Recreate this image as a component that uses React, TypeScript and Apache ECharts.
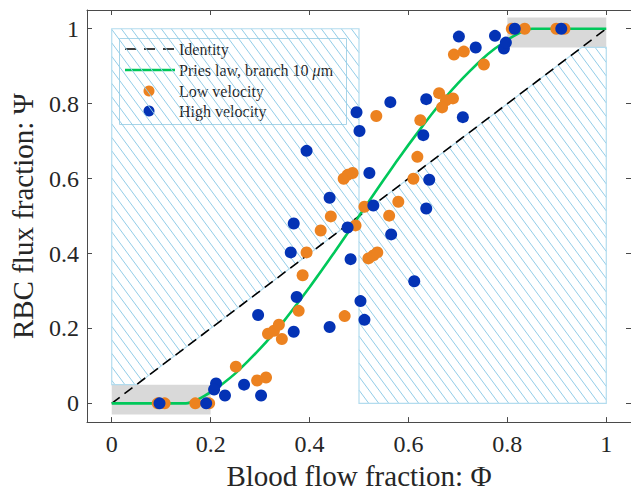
import React, { useEffect, useRef } from "react";
import * as echarts from "echarts";

const xTicks = [0, 0.2, 0.4, 0.6, 0.8, 1];
const yTicks = [0, 0.2, 0.4, 0.6, 0.8, 1];

const identityX = [0, 1];
const identityY = [0, 1];

const priesX = [0, 0.05, 0.1, 0.15, 0.16, 0.175, 0.1875, 0.2, 0.225, 0.25, 0.275, 0.3, 0.325, 0.35, 0.375, 0.4, 0.425, 0.45, 0.475, 0.5, 0.525, 0.55, 0.575, 0.6, 0.625, 0.65, 0.675, 0.7, 0.725, 0.75, 0.775, 0.8, 0.8125, 0.825, 0.84, 0.85, 0.9, 0.95, 1];
const priesY = [0, 0, 0, 0, 0.003, 0.011, 0.02, 0.03, 0.053, 0.08, 0.112, 0.146, 0.183, 0.223, 0.266, 0.31, 0.356, 0.403, 0.451, 0.5, 0.549, 0.597, 0.644, 0.69, 0.734, 0.777, 0.817, 0.854, 0.888, 0.92, 0.947, 0.97, 0.98, 0.989, 0.997, 1, 1, 1, 1];

const lowX = [0.093, 0.107, 0.169, 0.197, 0.251, 0.294, 0.312, 0.316, 0.328, 0.338, 0.344, 0.378, 0.386, 0.394, 0.4225, 0.443, 0.469, 0.477, 0.487, 0.471, 0.493, 0.511, 0.519, 0.529, 0.537, 0.535, 0.561, 0.5795, 0.61, 0.618, 0.624, 0.662, 0.676, 0.69, 0.668, 0.692, 0.712, 0.7525, 0.809, 0.835, 0.899, 0.9155];
const lowY = [0, 0, 0, 0, 0.098, 0.061, 0.069, 0.186, 0.194, 0.21, 0.172, 0.247, 0.342, 0.403, 0.4615, 0.499, 0.5995, 0.61, 0.615, 0.233, 0.475, 0.525, 0.387, 0.395, 0.403, 0.767, 0.501, 0.538, 0.5995, 0.658, 0.756, 0.828, 0.809, 0.814, 0.79, 0.931, 0.939, 0.9045, 1, 1, 1, 1];

const highX = [0.0966, 0.191, 0.211, 0.207, 0.229, 0.2676, 0.302, 0.296, 0.368, 0.374, 0.362, 0.368, 0.394, 0.4406, 0.4406, 0.477, 0.483, 0.495, 0.501, 0.503, 0.511, 0.521, 0.529, 0.5634, 0.565, 0.6117, 0.63, 0.636, 0.636, 0.642, 0.71, 0.702, 0.736, 0.775, 0.793, 0.797, 0.815, 0.909];
const highY = [0, 0, 0.053, 0.037, 0.021, 0.05, 0.021, 0.236, 0.191, 0.284, 0.403, 0.48, 0.674, 0.549, 0.204, 0.4695, 0.385, 0.777, 0.727, 0.273, 0.223, 0.615, 0.528, 0.804, 0.451, 0.326, 0.716, 0.812, 0.52, 0.597, 0.764, 0.979, 0.95, 0.981, 0.947, 0.963, 1, 1];

const hatchRegions = [
  [[0, 0.05], [0, 1], [0.5, 1], [0.5, 0.5], [0.05, 0.05]],
  [[0.5, 0], [0.5, 0.5], [0.95, 0.95], [1, 0.95], [1, 0]],
];
const grayBoxes = [
  [0, -0.03, 0.2, 0.05],
  [0.8, 0.95, 1, 1.03],
];

const FONT = "Liberation Serif";
const ORANGE = "#EC8220";
const BLUE = "#0433B5";
const GREEN = "#00C85A";
const HATCH = "#93cde8";
const AXIS = "#4a4a4a";

function hatchLines(pts: number[][], spacing: number, k: number) {
  let area = 0;
  for (let i = 0; i < pts.length; i++) {
    const j = (i + 1) % pts.length;
    area += pts[i][0] * pts[j][1] - pts[j][0] * pts[i][1];
  }
  const s = area > 0 ? 1 : -1;
  const cs = pts.map((p) => p[0] - p[1] / k);
  const cmin = Math.floor(Math.min(...cs) / spacing) * spacing;
  const cmax = Math.max(...cs);
  const out: number[][][] = [];
  for (let c = cmin; c <= cmax; c += spacing) {
    const p0 = [c, 0];
    const d = [1, k];
    let t0 = -Infinity;
    let t1 = Infinity;
    for (let i = 0; i < pts.length; i++) {
      const a = pts[i];
      const b = pts[(i + 1) % pts.length];
      const ex = b[0] - a[0];
      const ey = b[1] - a[1];
      const num = s * (ex * (p0[1] - a[1]) - ey * (p0[0] - a[0]));
      const den = s * (ex * d[1] - ey * d[0]);
      if (Math.abs(den) < 1e-9) {
        if (num < 0) {
          t0 = 1;
          t1 = 0;
        }
        continue;
      }
      const t = -num / den;
      if (den > 0) t0 = Math.max(t0, t);
      else t1 = Math.min(t1, t);
    }
    if (t1 > t0) out.push([[c + t0, k * t0], [c + t1, k * t1]]);
  }
  return out;
}

export default function App() {
  const ref = useRef<HTMLDivElement>(null);
  useEffect(() => {
    if (!ref.current) return;
    const chart = echarts.init(ref.current, undefined, { renderer: "svg" });
    const axisCommon = {
      type: "value" as const,
      min: -0.05,
      max: 1.05,
      splitLine: { show: false },
      axisLine: { show: true, onZero: false, lineStyle: { color: AXIS, width: 1 } },
    };
    const option: any = {
      animation: false,
      backgroundColor: "#ffffff",
      grid: { left: 86, top: 10, width: 546, height: 415, containLabel: false },
      xAxis: [
        {
          ...axisCommon,
          position: "bottom",
          name: "Blood flow fraction: \u03A6",
          nameLocation: "middle",
          nameGap: 36,
          nameTextStyle: { fontFamily: FONT, fontSize: 29, color: "#262626" },
          axisTick: { show: true, inside: true, length: 5, customValues: xTicks, lineStyle: { color: AXIS } },
          axisLabel: { show: true, customValues: xTicks, margin: 10, fontFamily: FONT, fontSize: 24, color: "#262626", formatter: (v: number) => String(Math.round(v * 10) / 10) },
        },
        {
          ...axisCommon,
          position: "top",
          axisTick: { show: true, inside: true, length: 5, customValues: xTicks, lineStyle: { color: AXIS } },
          axisLabel: { show: false },
        },
      ],
      yAxis: [
        {
          ...axisCommon,
          position: "left",
          name: "RBC flux fraction: \u03A8",
          nameLocation: "middle",
          nameGap: 50,
          nameTextStyle: { fontFamily: FONT, fontSize: 29, color: "#262626" },
          axisTick: { show: true, inside: true, length: 5, customValues: yTicks, lineStyle: { color: AXIS } },
          axisLabel: { show: true, customValues: yTicks, margin: 8, fontFamily: FONT, fontSize: 24, color: "#262626", formatter: (v: number) => String(Math.round(v * 10) / 10) },
        },
        {
          ...axisCommon,
          position: "right",
          axisTick: { show: true, inside: true, length: 5, customValues: yTicks, lineStyle: { color: AXIS } },
          axisLabel: { show: false },
        },
      ],
      series: [
        {
          type: "custom",
          name: "gray",
          silent: true,
          z: 1,
          data: grayBoxes.map((b) => [b[0], b[1]]),
          renderItem: (params: any, api: any) => {
            const b = grayBoxes[params.dataIndex];
            const p1 = api.coord([b[0], b[3]]);
            const p2 = api.coord([b[2], b[1]]);
            return {
              type: "rect",
              shape: { x: p1[0], y: p1[1], width: p2[0] - p1[0], height: p2[1] - p1[1] },
              style: { fill: "#d9d9d9", stroke: null },
            };
          },
        },
        {
          type: "custom",
          name: "hatch",
          silent: true,
          z: 2,
          data: hatchRegions.map((r) => [r[0][0], r[0][1]]),
          renderItem: (params: any, api: any) => {
            const poly = hatchRegions[params.dataIndex].map((p) => api.coord(p));
            const lines = hatchLines(poly, 10, 1.35);
            const children: any[] = lines.map((l) => ({
              type: "line",
              shape: { x1: l[0][0], y1: l[0][1], x2: l[1][0], y2: l[1][1] },
              style: { stroke: HATCH, lineWidth: 1 },
            }));
            children.push({
              type: "polygon",
              shape: { points: poly },
              style: { fill: "none", stroke: "#b3dcee", lineWidth: 1.2 },
            });
            return { type: "group", children };
          },
        },
        {
          type: "line",
          name: "Identity",
          z: 3,
          data: identityX.map((x, i) => [x, identityY[i]]),
          showSymbol: false,
          lineStyle: { color: "#000000", width: 1.6, type: [10, 6] },
        },
        {
          type: "line",
          name: "Pries",
          z: 4,
          data: priesX.map((x, i) => [x, priesY[i]]),
          showSymbol: false,
          smooth: 0.2,
          lineStyle: { color: GREEN, width: 2.6 },
        },
        {
          type: "scatter",
          name: "Low velocity",
          z: 5,
          symbolSize: 12,
          data: lowX.map((x, i) => [x, lowY[i]]),
          itemStyle: { color: ORANGE, opacity: 1 },
        },
        {
          type: "scatter",
          name: "High velocity",
          z: 6,
          symbolSize: 12,
          data: highX.map((x, i) => [x, highY[i]]),
          itemStyle: { color: BLUE, opacity: 1 },
        },
      ],
      graphic: [
        {
          type: "group",
          z: 100,
          children: [
            { type: "rect", shape: { x: 119.5, y: 38.5, width: 227, height: 86 }, style: { fill: "#ffffff", stroke: "#a9d5e8", lineWidth: 1 } },
            { type: "line", shape: { x1: 125, y1: 49, x2: 175, y2: 49 }, style: { stroke: "#000000", lineWidth: 1.6, lineDash: [11, 8] } },
            { type: "line", shape: { x1: 125, y1: 70, x2: 175, y2: 70 }, style: { stroke: GREEN, lineWidth: 2.6 } },
            { type: "circle", shape: { cx: 149, cy: 91, r: 5.5 }, style: { fill: ORANGE } },
            { type: "circle", shape: { cx: 149, cy: 111, r: 5.5 }, style: { fill: BLUE } },
            { type: "text", x: 179, y: 49, style: { text: "Identity", font: `16px '${FONT}'`, fill: "#262626", verticalAlign: "middle" } },
            {
              type: "text",
              x: 179,
              y: 70,
              style: {
                text: "Pries law, branch 10 {i|\u03BC}m",
                font: `16px '${FONT}'`,
                fill: "#262626",
                verticalAlign: "middle",
                rich: { i: { fontStyle: "italic", fontFamily: FONT, fontSize: 16, fill: "#262626" } },
              },
            },
            { type: "text", x: 179, y: 91, style: { text: "Low velocity", font: `16px '${FONT}'`, fill: "#262626", verticalAlign: "middle" } },
            { type: "text", x: 179, y: 111, style: { text: "High velocity", font: `16px '${FONT}'`, fill: "#262626", verticalAlign: "middle" } },
          ],
        },
      ],
    };
    chart.setOption(option);
    return () => chart.dispose();
  }, []);
  return (
    <div
      ref={ref}
      style={{ position: "absolute", left: 0, top: 0, width: 631, height: 495, background: "#fff" }}
    />
  );
}
